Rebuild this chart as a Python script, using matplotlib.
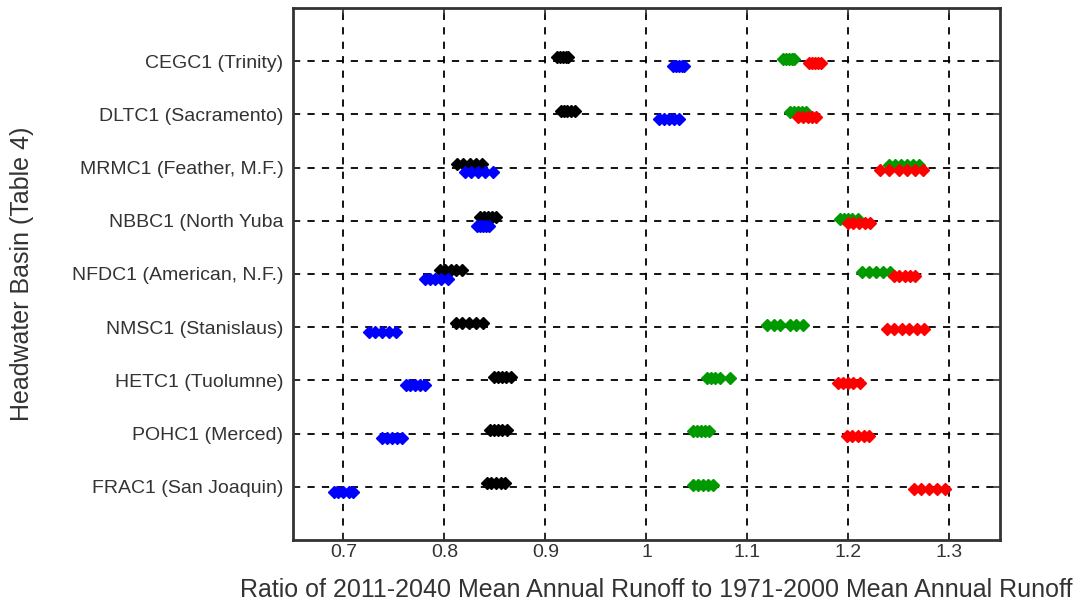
import matplotlib
matplotlib.use('Agg')
import matplotlib.pyplot as plt

plt.rcParams['font.family'] = ['Liberation Sans', 'DejaVu Sans']

basins = ['CEGC1 (Trinity)', 'DLTC1 (Sacramento)', 'MRMC1 (Feather, M.F.)',
          'NBBC1 (North Yuba', 'NFDC1 (American, N.F.)', 'NMSC1 (Stanislaus)',
          'HETC1 (Tuolumne)', 'POHC1 (Merced)', 'FRAC1 (San Joaquin)']

# ratio values per basin, one list per basin, four runs
black = [[0.911, 0.914, 0.917, 0.920, 0.922],
         [0.915, 0.918, 0.921, 0.925, 0.929],
         [0.812, 0.818, 0.825, 0.831, 0.837],
         [0.835, 0.839, 0.843, 0.847, 0.851],
         [0.796, 0.801, 0.806, 0.811, 0.817],
         [0.811, 0.817, 0.824, 0.831, 0.838],
         [0.849, 0.853, 0.857, 0.861, 0.866],
         [0.845, 0.849, 0.853, 0.857, 0.862],
         [0.842, 0.846, 0.851, 0.856, 0.860]]
blue = [[1.026, 1.029, 1.032, 1.035, 1.037],
        [1.012, 1.017, 1.022, 1.027, 1.032],
        [0.820, 0.826, 0.833, 0.840, 0.848],
        [0.832, 0.835, 0.838, 0.841, 0.844],
        [0.781, 0.786, 0.791, 0.797, 0.803],
        [0.725, 0.731, 0.738, 0.745, 0.752],
        [0.762, 0.766, 0.771, 0.776, 0.781],
        [0.738, 0.743, 0.748, 0.753, 0.758],
        [0.691, 0.695, 0.700, 0.705, 0.709]]
green = [[1.135, 1.138, 1.141, 1.144, 1.146],
         [1.142, 1.146, 1.150, 1.154, 1.158],
         [1.240, 1.246, 1.252, 1.258, 1.264, 1.270],
         [1.192, 1.196, 1.200, 1.204, 1.209],
         [1.213, 1.220, 1.227, 1.234, 1.241],
         [1.119, 1.126, 1.132, 1.142, 1.148, 1.155],
         [1.060, 1.064, 1.068, 1.073, 1.083],
         [1.046, 1.050, 1.054, 1.058, 1.062],
         [1.046, 1.051, 1.056, 1.061, 1.066]]
red = [[1.161, 1.164, 1.167, 1.170, 1.173],
       [1.150, 1.155, 1.160, 1.164, 1.168],
       [1.231, 1.240, 1.250, 1.258, 1.266, 1.274],
       [1.200, 1.205, 1.210, 1.216, 1.221],
       [1.245, 1.250, 1.256, 1.261, 1.266],
       [1.238, 1.245, 1.253, 1.260, 1.268, 1.275],
       [1.190, 1.195, 1.200, 1.205, 1.211],
       [1.199, 1.204, 1.209, 1.215, 1.220],
       [1.265, 1.272, 1.280, 1.288, 1.296]]

xticks = [0.7, 0.8, 0.9, 1, 1.1, 1.2, 1.3]
xticklabels = ['0.7', '0.8', '0.9', '1', '1.1', '1.2', '1.3']

fig = plt.figure(figsize=(10.76, 6.07), dpi=100)
ax = fig.add_axes([0.2723, 0.1104, 0.657, 0.8764])

series = [(black, 'black', -0.07), (blue, '#0000ff', 0.09),
          (green, '#009a00', -0.04), (red, '#ff0000', 0.04)]
for data, col, off in series:
    for i, vals in enumerate(data):
        ax.plot(vals, [i + 1 + off] * len(vals), linestyle='-', color=col,
                lw=2.5, marker='D', ms=6, mfc=col, mec=col, zorder=3)

ax.set_xlim(0.65, 1.35)
ax.set_ylim(10, 0)
ax.set_xticks(xticks)
ax.set_xticklabels(xticklabels, fontsize=14, color='#333333')
ax.set_yticks(range(1, 10))
ax.set_yticklabels(basins, fontsize=14, color='#333333')
ax.grid(True, color='black', linestyle=(0, (4, 4)), linewidth=1.3)
ax.set_axisbelow(True)
ax.tick_params(direction='in', top=True, right=True, length=5, width=1.2,
               color='#333333')
ax.tick_params(axis='y', pad=7)
ax.tick_params(axis='x', pad=3)
for s in ax.spines.values():
    s.set_linewidth(2)
    s.set_color('#333333')

ax.set_xlabel('Ratio of 2011-2040 Mean Annual Runoff to 1971-2000 Mean Annual Runoff',
              fontsize=18, color='#333333')
ax.xaxis.set_label_coords(0.514, -0.072)
ax.set_ylabel('Headwater Basin (Table 4)', fontsize=18, color='#333333')
ax.yaxis.set_label_coords(-0.367, 0.5)

fig.savefig('out.png', dpi=100)
